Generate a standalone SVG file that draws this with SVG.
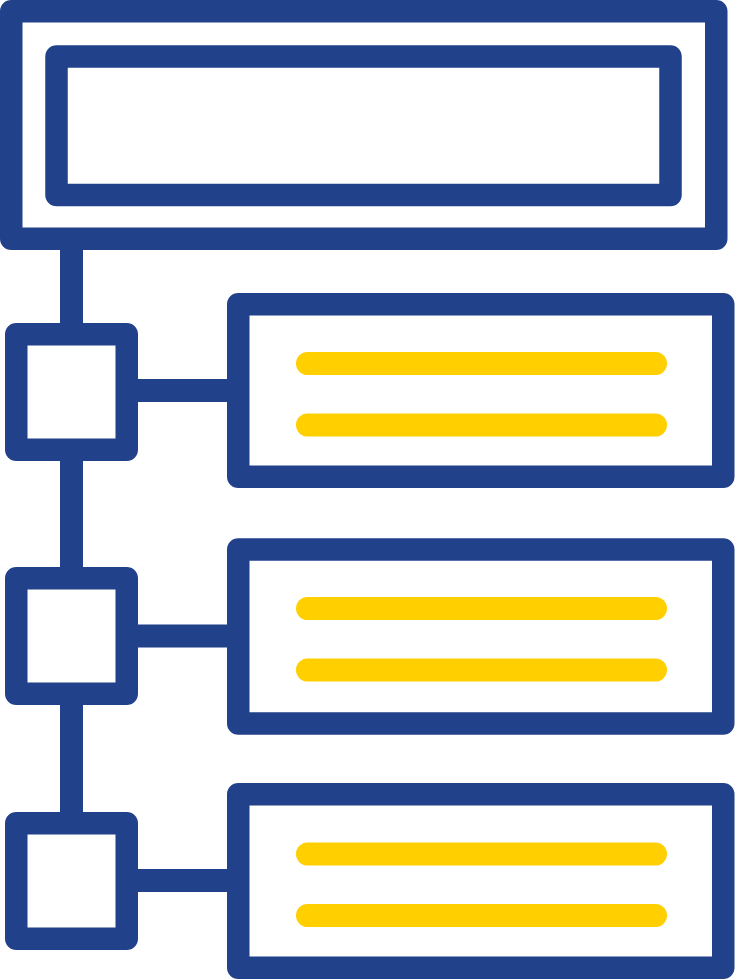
<svg xmlns="http://www.w3.org/2000/svg" width="736" height="980" viewBox="0 0 736 980">
<style>
.b{fill:none;stroke:#21418a;stroke-width:22.5;stroke-linejoin:round}
.c{stroke:#21418a;stroke-width:23}
.y{stroke:#ffcf00;stroke-width:23;stroke-linecap:round}
</style>
<rect width="736" height="980" fill="#fff"/>
<g id="connectors">
<line class="c" x1="71.5" y1="249" x2="71.5" y2="324"/>
<line class="c" x1="71.5" y1="460" x2="71.5" y2="568"/>
<line class="c" x1="71.5" y1="705" x2="71.5" y2="813"/>
<line class="c" x1="137" y1="390.5" x2="228" y2="390.5"/>
<line class="c" x1="137" y1="636" x2="228" y2="636"/>
<line class="c" x1="137" y1="880.5" x2="228" y2="880.5"/>
</g>
<g id="header">
<rect class="b" x="11.25" y="11.25" width="705" height="227.5"/>
<rect class="b" x="56.5" y="56.5" width="614" height="138.5"/>
</g>
<g id="node1">
<rect class="b" x="16.25" y="334.25" width="110.5" height="115.5"/>
</g>
<g id="node2">
<rect class="b" x="16.25" y="578.25" width="110.5" height="115.5"/>
</g>
<g id="node3">
<rect class="b" x="16.25" y="823.25" width="110.5" height="115.5"/>
</g>
<g id="card1">
<rect class="b" x="238.25" y="304.25" width="485" height="172.5"/>
<line class="y" x1="307.5" y1="363.5" x2="655.5" y2="363.5"/>
<line class="y" x1="307.5" y1="425" x2="655.5" y2="425"/>
</g>
<g id="card2">
<rect class="b" x="238.25" y="549.5" width="485" height="174"/>
<line class="y" x1="307.5" y1="608.5" x2="655.5" y2="608.5"/>
<line class="y" x1="307.5" y1="670" x2="655.5" y2="670"/>
</g>
<g id="card3">
<rect class="b" x="238.25" y="794.25" width="485" height="173.5"/>
<line class="y" x1="307.5" y1="854" x2="655.5" y2="854"/>
<line class="y" x1="307.5" y1="915.5" x2="655.5" y2="915.5"/>
</g>
</svg>
